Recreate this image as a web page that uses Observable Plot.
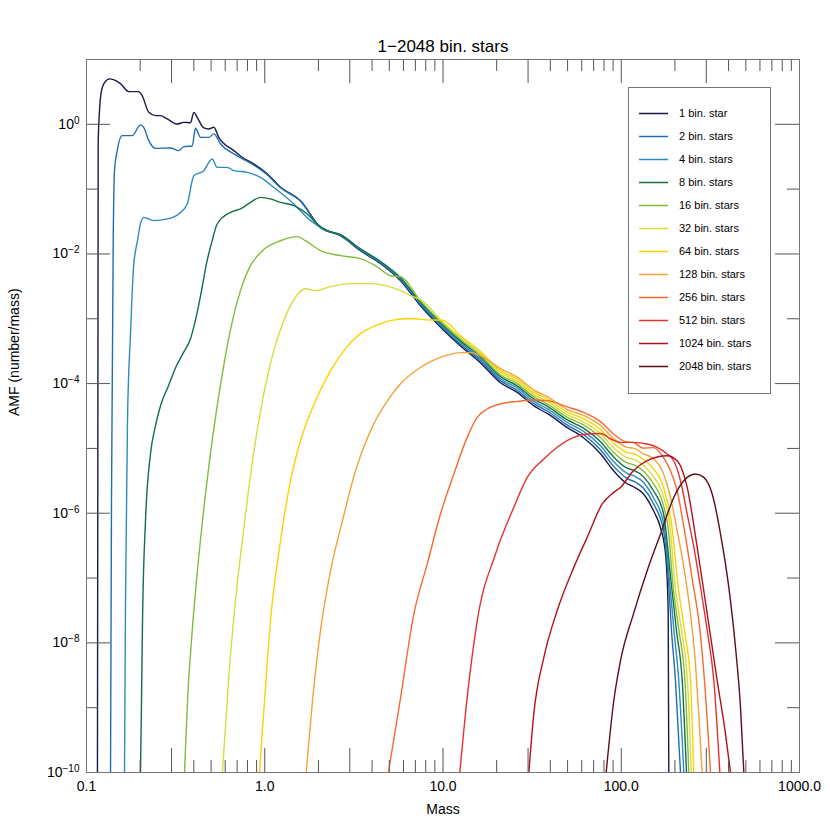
<!DOCTYPE html>
<html><head><meta charset="utf-8">
<script src="https://cdn.jsdelivr.net/npm/d3@7"></script>
<script src="https://cdn.jsdelivr.net/npm/@observablehq/plot@0.6"></script>
<style>body{margin:0;background:#fff} svg{display:block}</style>
</head><body><div id="chart"></div>
<script>
const seriesNames = ["1 bin. star","2 bin. stars","4 bin. stars","8 bin. stars","16 bin. stars","32 bin. stars","64 bin. stars","128 bin. stars","256 bin. stars","512 bin. stars","1024 bin. stars","2048 bin. stars"];
const seriesColors = ["#191947","#1f6db2","#2a8cc0","#127041","#86bb3a","#d8dc3c","#fbd300","#f2a33a","#f76a2c","#e2322e","#b2111c","#5c0f14"];

// [mass, AMF]
const bin1 = [[0.1152,1e-10],[0.1158,1e-5],[0.1163,0.5],[0.1183,1.63],[0.1209,3.12],[0.1262,4.40],[0.1351,5.02],[0.1417,4.90],[0.1551,4.25],[0.1727,3.20],[0.1965,3.20],[0.2053,2.77],[0.2236,1.53],[0.2438,1.36],[0.2602,1.36],[0.2836,1.21],[0.3227,1.01],[0.3515,1.07],[0.3832,1.06],[0.400,1.53],[0.418,1.28],[0.455,0.88],[0.485,0.849],[0.518,0.899],[0.552,0.63],[0.671,0.393],[0.747,0.31],[0.868,0.245],[1.032,0.172],[1.226,0.107],[1.587,0.0665],[2.055,0.0257],[2.66,0.0191],[3.44,0.01125],[4.46,0.00708],[5.78,0.00387],[7.48,1.585e-3],[9.94,6.92e-4],[12.5,3.84e-4],[16.2,2.10e-4],[21.0,1.03e-4],[26.2,7.24e-5],[32.2,4.56e-5],[38.6,3.43e-5],[49.9,2.09e-5],[61.4,1.46e-5],[76.5,8.28e-6],[90.5,4.53e-6],[108,2.85e-6],[117,2.56e-6],[133,2.0e-6],[151.7,1.09e-6],[166.1,5.97e-7],[177.1,2.37e-7],[181.1,9.08e-8],[183.4,2.81e-8],[184.8,1e-10]];
const bin2 = [[0.1364,1e-10],[0.1381,1.56e-6],[0.1412,0.016],[0.1436,0.193],[0.1487,0.393],[0.1586,0.669],[0.1804,0.669],[0.2009,0.979],[0.2097,0.889],[0.2236,0.56],[0.2438,0.426],[0.296,0.432],[0.3295,0.393],[0.3515,0.453],[0.3917,0.464],[0.4088,0.868],[0.436,0.63],[0.485,0.63],[0.518,0.711],[0.565,0.498],[0.671,0.349],[0.747,0.296],[0.868,0.235],[1.032,0.167],[1.226,0.105],[1.587,0.0653],[2.055,0.0255],[2.66,0.0195],[3.44,0.01148],[4.46,0.00728],[5.78,0.00401],[7.48,1.656e-3],[9.94,7.29e-4],[12.5,4.08e-4],[16.2,2.25e-4],[21.0,1.11e-4],[26.2,7.83e-5],[32.2,4.94e-5],[38.6,3.74e-5],[49.9,2.29e-5],[61.4,1.64e-5],[76.5,9.55e-6],[90.5,5.33e-6],[108,3.43e-6],[117,3.12e-6],[133,2.45e-6],[151.7,1.40e-6],[172.7,5.37e-7],[184.1,9.08e-8],[191.4,1.54e-8],[201.5,2.6e-9],[215.0,1e-10]];
const bin4 = [[0.1634,1e-10],[0.1655,4.47e-8],[0.1698,2.68e-5],[0.1766,5.89e-4],[0.1835,0.00614],[0.1932,0.016],[0.2009,0.0294],[0.2097,0.0367],[0.2385,0.0327],[0.2836,0.0347],[0.3295,0.0414],[0.3673,0.0591],[0.400,0.1615],[0.455,0.193],[0.507,0.292],[0.541,0.217],[0.616,0.217],[0.671,0.193],[0.797,0.1816],[0.947,0.152],[1.124,0.1066],[1.456,0.0591],[1.806,0.0327],[2.24,0.0229],[2.66,0.01968],[3.44,0.01172],[4.46,0.00748],[5.78,0.00415],[7.48,1.73e-3],[9.94,7.69e-4],[12.5,4.34e-4],[16.2,2.40e-4],[21.0,1.19e-4],[26.2,8.47e-5],[32.2,5.36e-5],[38.6,4.07e-5],[49.9,2.51e-5],[61.4,1.83e-5],[76.5,1.10e-5],[90.5,6.28e-6],[108,4.12e-6],[117,3.79e-6],[133,3.0e-6],[151.7,1.73e-6],[172.7,7.13e-7],[186.5,9.08e-8],[197.6,1.54e-8],[210.3,2.6e-9],[224.4,1e-10]];
const bin8 = [[0.2009,1e-10],[0.2035,1.28e-9],[0.2062,2.19e-8],[0.2143,7.66e-7],[0.2286,8.28e-6],[0.2438,2.24e-5],[0.2602,4.56e-5],[0.2884,9.29e-5],[0.3198,1.89e-4],[0.350,3.0e-4],[0.3832,4.93e-4],[0.414,0.00112],[0.442,0.00272],[0.471,0.00708],[0.507,0.016],[0.541,0.029],[0.643,0.0439],[0.731,0.0495],[0.832,0.0626],[0.947,0.0747],[1.077,0.0706],[1.226,0.0626],[1.456,0.0556],[1.73,0.0414],[1.97,0.029],[2.24,0.0229],[2.66,0.01995],[3.44,0.01197],[4.46,0.00769],[5.78,0.0043],[7.48,1.807e-3],[9.94,8.11e-4],[12.5,4.60e-4],[16.2,2.57e-4],[21.0,1.28e-4],[26.2,9.16e-5],[32.2,5.81e-5],[38.6,4.44e-5],[49.9,2.75e-5],[61.4,2.05e-5],[76.5,1.27e-5],[90.5,7.40e-6],[108,4.95e-6],[117,4.61e-6],[133,3.67e-6],[151.7,2.22e-6],[172.7,9.82e-7],[190.1,9.08e-8],[204.1,1.54e-8],[219.8,2.6e-9],[232.3,1e-10]];
const bin16 = [[0.3546,1e-10],[0.3687,1.28e-9],[0.388,1.08e-8],[0.414,9.08e-8],[0.4475,7.66e-7],[0.49,6.46e-6],[0.536,3.82e-5],[0.595,2.25e-4],[0.659,9.35e-4],[0.731,0.00272],[0.832,0.00659],[0.971,0.01125],[1.226,0.016],[1.527,0.0185],[1.693,0.016],[2.055,0.01125],[2.66,0.00942],[3.44,0.00846],[4.18,0.0066],[5.08,0.00462],[5.78,0.00445],[7.48,1.888e-3],[9.94,8.55e-4],[12.5,4.89e-4],[16.2,2.75e-4],[21.0,1.37e-4],[26.2,9.91e-5],[32.2,6.30e-5],[38.6,4.83e-5],[49.9,3.01e-5],[61.4,2.30e-5],[76.5,1.47e-5],[90.5,8.71e-6],[108,5.96e-6],[117,5.61e-6],[133,4.50e-6],[151.7,2.85e-6],[172.7,1.31e-6],[184.1,5.37e-7],[193.9,9.08e-8],[210.8,1.54e-8],[227.8,2.6e-9],[239.3,1e-10]];
const bin32 = [[0.579,1e-10],[0.626,2.6e-9],[0.685,4.47e-8],[0.76,5.37e-7],[0.854,6.46e-6],[0.971,5.45e-5],[1.105,2.7e-4],[1.291,1.0e-3],[1.507,0.00227],[1.693,0.00291],[1.926,0.00272],[2.34,0.00313],[3.03,0.00348],[3.92,0.00348],[4.76,0.00324],[5.78,0.00272],[6.57,0.00227],[7.48,1.972e-3],[9.94,9.02e-4],[12.5,5.19e-4],[16.2,2.94e-4],[21.0,1.48e-4],[26.2,1.07e-4],[32.2,6.82e-5],[38.6,5.26e-5],[49.9,3.30e-5],[61.4,2.57e-5],[76.5,1.69e-5],[90.5,1.03e-5],[108,7.16e-6],[117,6.82e-6],[133,5.51e-6],[151.7,3.66e-6],[172.7,1.80e-6],[188.9,5.37e-7],[198.9,9.08e-8],[217.8,1.54e-8],[235.3,2.6e-9],[246.9,1e-10]];
const bin64 = [[0.934,1e-10],[0.997,1.28e-9],[1.077,2.19e-8],[1.226,3.76e-7],[1.395,3.17e-6],[1.587,1.31e-5],[1.926,5.45e-5],[2.34,1.58e-4],[2.84,3.46e-4],[3.44,5.89e-4],[4.18,7.82e-4],[5.08,9.35e-4],[6.16,1.0e-3],[7.01,1.0e-3],[8.29,9.6e-4],[9.94,9.51e-4],[12.5,5.51e-4],[16.2,3.14e-4],[21.0,1.585e-4],[26.2,1.16e-4],[32.2,7.40e-5],[38.6,5.73e-5],[49.9,3.62e-5],[61.4,2.88e-5],[76.5,1.95e-5],[90.5,1.21e-5],[108,8.61e-6],[117,8.30e-6],[133,6.75e-6],[151.7,4.86e-6],[172.7,2.48e-6],[193.9,5.37e-7],[206.8,9.08e-8],[226.3,1.54e-8],[244.6,2.6e-9],[255.3,1e-10]];
const bin128 = [[1.708,1e-10],[1.853,1.28e-9],[2.055,1.54e-8],[2.34,1.3e-7],[2.73,7.66e-7],[3.23,4.53e-6],[3.92,1.88e-5],[4.76,4.9e-5],[5.78,9.97e-5],[7.01,1.58e-4],[8.51,2.18e-4],[10.33,2.70e-4],[12.54,3.0e-4],[14.27,3.0e-4],[16.65,2.6e-4],[21.0,1.70e-4],[26.2,1.25e-4],[32.2,8.02e-5],[38.6,6.24e-5],[49.9,3.97e-5],[61.4,3.22e-5],[76.5,2.25e-5],[90.5,1.42e-5],[108,1.035e-5],[117,1.01e-5],[133,8.26e-6],[151.7,6.93e-6],[172.7,4.07e-6],[188.9,1.75e-6],[205.9,5.37e-7],[224.4,1.46e-7],[244.6,2.78e-8],[260.9,4.71e-9],[272.2,7.96e-10],[284.5,1e-10]];
const bin256 = [[4.94,1e-10],[5.78,1.42e-9],[6.86,2.78e-8],[8.15,1.64e-7],[9.68,9.72e-7],[11.5,4.03e-6],[13.67,1.48e-5],[15.56,3.01e-5],[17.7,4.06e-5],[21.0,4.84e-5],[26.1,5.31e-5],[32.3,5.58e-5],[38.6,5.45e-5],[49.9,4.36e-5],[61.4,3.61e-5],[76.5,2.59e-5],[90.5,1.67e-5],[108,1.245e-5],[117,1.23e-5],[133,1.01e-5],[151.7,1.03e-5],[172.7,7.19e-6],[188.9,4.53e-6],[205.9,2.22e-6],[226.3,5.37e-7],[251.0,9.08e-8],[276.6,1.54e-8],[293.1,2.6e-9],[316.7,1e-10]];
const bin512 = [[12.43,1e-10],[13.67,1.44e-9],[15.56,2.19e-8],[19.7,2.35e-7],[24.96,1.23e-6],[29.7,3.57e-6],[36.8,6.86e-6],[43.7,1.04e-5],[54.2,1.48e-5],[64.4,1.67e-5],[76.5,1.70e-5],[87.0,1.41e-5],[99.0,1.24e-5],[117,1.24e-5],[139.8,1.17e-5],[159.1,1.04e-5],[181.1,8.2e-6],[197.1,6.46e-6],[215,3.17e-6],[234.4,9.72e-7],[255.5,2.97e-7],[278.5,7.16e-8],[303.7,1.54e-8],[330.7,2.6e-9],[357.4,1e-10]];
const bin1024 = [[30.3,1e-10],[32.3,7.96e-10],[36.8,5.96e-9],[43.7,3.13e-8],[54.2,1.46e-7],[64.4,4.24e-7],[78.2,1.39e-6],[90.8,2.1e-6],[99.0,2.5e-6],[117,4.53e-6],[139.8,6.46e-6],[181.1,7.71e-6],[205.9,6.46e-6],[234.4,2.5e-6],[266.8,2.97e-7],[303.7,2.78e-8],[345.5,2.6e-9],[384.6,3.92e-10],[410.2,1e-10]];
const bin2048 = [[82.3,1e-10],[90.8,1.28e-9],[99.0,5.3e-9],[117,2.78e-8],[139.8,1.3e-7],[166.1,4.78e-7],[197.1,1.75e-6],[224.2,3.17e-6],[260.9,4.03e-6],[290.5,3.57e-6],[323.7,1.98e-6],[360.5,4.78e-7],[401.3,7.16e-8],[437.5,8.49e-9],[466.7,1.01e-9],[487.2,1e-10]];
const seriesData = [bin1, bin2, bin4, bin8, bin16, bin32, bin64, bin128, bin256, bin512, bin1024, bin2048];

const xMajorTicks = [0.1, 0.3, 1, 3, 10, 30, 100, 300, 1000];
const xMajorLabels = ["0.1", "0.3", "1.0", "3.0", "10.0", "30.0", "100.0", "300.0", "1000.0"];
const xMinorTicks = [0.2,0.4,0.5,0.6,0.7,0.8,0.9,2,4,5,6,7,8,9,20,40,50,60,70,80,90,200,400,500,600,700,800,900];
const yMajorTicks = [1, 1e-2, 1e-4, 1e-6, 1e-8, 1e-10];
const yMajorExponents = ["0", "\u22122", "\u22124", "\u22126", "\u22128", "\u221210"];
const yMinorTicks = [10, 1e-1, 1e-3, 1e-5, 1e-7, 1e-9];
const titleText = "1\u22122048 bin. stars";
const xLabel = "Mass";
const yLabel = "AMF (number/mass)";

const rows = seriesData.flatMap((arr, i) => arr.map(([mass, amf]) => ({series: seriesNames[i], mass, amf})));
const xLabelOf = new Map(xMajorTicks.map((t, i) => [t, xMajorLabels[i]]));
const yLabelOf = new Map(yMajorTicks.map((t, i) => [t, "10^" + yMajorExponents[i]]));

const W = 830, H = 830, mt = 59, mb = 58, ml = 86, mr = 31;
const ph = H - mt - mb, pw = W - ml - mr;
const major = 24, minor = 12, tickColor = "#555";

const svg = Plot.plot({
  width: W, height: H,
  marginTop: mt, marginBottom: mb, marginLeft: ml, marginRight: mr,
  style: {fontFamily: "'Liberation Sans', Arial, Helvetica, sans-serif", fontSize: "14px", background: "#fff", color: "#000"},
  x: {type: "log", domain: [0.1, 1000]},
  y: {type: "log", domain: [1e-10, 10]},
  color: {domain: seriesNames, range: seriesColors},
  marks: [
    Plot.line(rows, {x: "mass", y: "amf", z: "series", stroke: "series", strokeWidth: 1.4, curve: "monotone-x", clip: true}),
    Plot.ruleX(xMajorTicks, {x: d => d, insetTop: ph - major, stroke: tickColor}),
    Plot.ruleX(xMajorTicks, {x: d => d, insetBottom: ph - major, stroke: tickColor}),
    Plot.ruleX(xMinorTicks, {x: d => d, insetTop: ph - minor, stroke: tickColor}),
    Plot.ruleX(xMinorTicks, {x: d => d, insetBottom: ph - minor, stroke: tickColor}),
    Plot.ruleY(yMajorTicks, {y: d => d, insetRight: pw - major, stroke: tickColor}),
    Plot.ruleY(yMajorTicks, {y: d => d, insetLeft: pw - major, stroke: tickColor}),
    Plot.ruleY(yMinorTicks, {y: d => d, insetRight: pw - minor, stroke: tickColor}),
    Plot.ruleY(yMinorTicks, {y: d => d, insetLeft: pw - minor, stroke: tickColor}),
    Plot.frame({stroke: "#777"}),
    Plot.axisX({ticks: xMajorTicks, tickSize: 0, tickPadding: 9, tickFormat: d => xLabelOf.get(d), label: null}),
    Plot.axisY({ticks: yMajorTicks, tickSize: 0, tickPadding: 7, tickFormat: d => yLabelOf.get(d), label: null}),
    Plot.text([xLabel], {frameAnchor: "bottom", dy: 41, lineAnchor: "bottom", fontSize: 14}),
    Plot.text([yLabel], {frameAnchor: "left", dx: -72, rotate: -90, fontSize: 14}),
    Plot.text([titleText], {frameAnchor: "top", dy: -8, lineAnchor: "bottom", fontSize: 17})
  ]
});

d3.select(svg).selectAll('g[aria-label="y-axis tick label"] text').each(function() {
  const [b, e] = this.textContent.split("^");
  this.textContent = b;
  d3.select(this).append("tspan").attr("dy", "-0.5em").attr("font-size", "10px").text(e);
});

const lg = d3.select(svg).append("g").attr("font-size", 11).attr("text-anchor", "start").attr("font-family", "'Liberation Sans', Arial, sans-serif");
lg.append("rect").attr("x", 628.5).attr("y", 87.5).attr("width", 142).attr("height", 306).attr("fill", "white").attr("stroke", "#777");
seriesNames.forEach((name, i) => {
  const y = 113.5 + 23 * i;
  lg.append("line").attr("x1", 639).attr("x2", 668).attr("y1", y).attr("y2", y).attr("stroke", seriesColors[i]).attr("stroke-width", 1.5);
  lg.append("text").attr("x", 679).attr("y", y).attr("dy", "0.35em").attr("text-anchor", "start").attr("fill", "#000").text(name);
});

document.getElementById("chart").appendChild(svg);
</script>
</body></html>
